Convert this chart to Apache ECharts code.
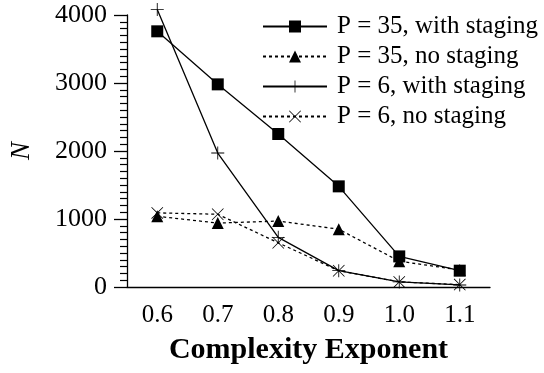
<!DOCTYPE html>
<html>
<head>
<meta charset="utf-8">
<script src="https://cdn.jsdelivr.net/npm/echarts@6/dist/echarts.min.js"></script>
<style>
  html, body { margin: 0; padding: 0; background: #fff; }
  #chart { width: 544px; height: 373px; }
</style>
</head>
<body>
<div id="chart"></div>
<script>
// Complexity exponent values on the x axis
const exponents = ['0.6', '0.7', '0.8', '0.9', '1.0', '1.1'];

// N for each configuration
const p35Staging = [3760, 2980, 2250, 1480, 450, 240];
const p35NoStaging = [1040, 940, 970, 850, 380, 250];
const p6Staging = [4080, 1970, 730, 240, 75, 30];
const p6NoStaging = [1090, 1070, 650, 240, 75, 35];

const seriesNames = [
    'P = 35, with staging',
    'P = 35, no staging',
    'P = 6, with staging',
    'P = 6, no staging'
];

const font = 'Liberation Serif';

// thin cross shapes, drawn as filled outlines
const plusPath = 'path://M9.35,0h1.3v9.35h9.35v1.3h-9.35v9.35h-1.3v-9.35h-9.35v-1.3h9.35z';
const crossPath = 'path://M0,0.9L0.9,0L10,9.1L19.1,0L20,0.9L10.9,10L20,19.1L19.1,20L10,10.9L0.9,20L0,19.1L9.1,10Z';

function makeSeries(name, data, symbol, size, dashed) {
    return {
        name: name,
        type: 'line',
        data: data,
        symbol: symbol,
        symbolSize: size,
        clip: false,
        lineStyle: {
            color: '#000',
            width: 1.3,
            type: dashed ? [3, 3] : 'solid'
        },
        itemStyle: { color: '#000' },
        emphasis: { disabled: true }
    };
}

const chart = echarts.init(document.getElementById('chart'));

chart.setOption({
    animation: false,
    backgroundColor: '#fff',
    grid: {
        left: 120,
        right: 54,
        top: 15,
        bottom: 86
    },
    legend: {
        orient: 'vertical',
        left: 257,
        top: 9,
        itemWidth: 64,
        itemHeight: 15,
        itemGap: 5,
        data: seriesNames,
        textStyle: {
            fontFamily: font,
            fontSize: 25,
            color: '#000',
            lineHeight: 25,
            padding: [0, 0, 0, 5]
        }
    },
    xAxis: {
        type: 'category',
        data: exponents,
        boundaryGap: true,
        name: 'Complexity Exponent',
        nameLocation: 'middle',
        nameGap: 48,
        nameTextStyle: {
            fontFamily: font,
            fontSize: 30,
            fontWeight: 'bold',
            color: '#000'
        },
        axisLine: { lineStyle: { color: '#000', width: 1.3 } },
        axisTick: {
            alignWithLabel: true,
            length: 13,
            lineStyle: { color: '#000', width: 1.3 }
        },
        axisLabel: {
            margin: 16,
            fontFamily: font,
            fontSize: 25,
            color: '#000'
        },
        splitLine: { show: false }
    },
    yAxis: {
        type: 'value',
        min: 0,
        max: 4000,
        interval: 1000,
        name: 'N',
        nameLocation: 'middle',
        nameGap: 92,
        nameRotate: 90,
        nameTextStyle: {
            fontFamily: font,
            fontSize: 27,
            fontStyle: 'italic',
            color: '#000'
        },
        axisLine: { show: true, lineStyle: { color: '#000', width: 1.3 } },
        axisTick: {
            show: true,
            length: 13,
            lineStyle: { color: '#000', width: 1.3 }
        },
        minorTick: {
            show: true,
            splitNumber: 10,
            length: 7,
            lineStyle: { color: '#000', width: 1.2 }
        },
        axisLabel: {
            margin: 20,
            fontFamily: font,
            fontSize: 26,
            color: '#000',
            formatter: function (v) { return String(v); }
        },
        splitLine: { show: false }
    },
    series: [
        makeSeries(seriesNames[0], p35Staging, 'rect', 12, false),
        makeSeries(seriesNames[1], p35NoStaging, 'triangle', 12, true),
        makeSeries(seriesNames[2], p6Staging, plusPath, 13, false),
        makeSeries(seriesNames[3], p6NoStaging, crossPath, 12, true)
    ]
});
</script>
</body>
</html>
